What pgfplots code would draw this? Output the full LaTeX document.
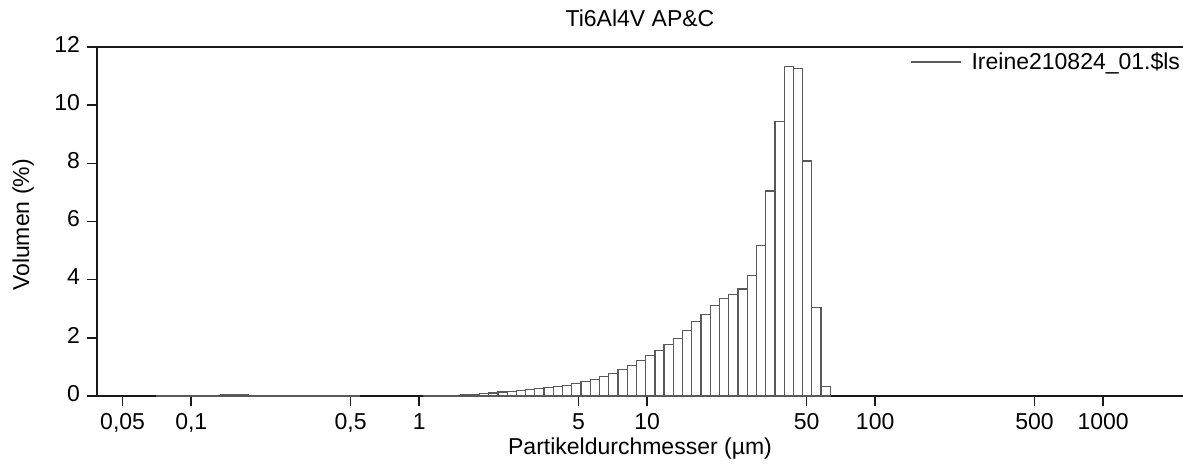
\documentclass[border=0pt]{standalone}
\usepackage{fontspec}
\setmainfont{Liberation Sans}
\usepackage{pgfplots}
\pgfplotsset{compat=1.18}
\usepackage{pgfplotstable}

% left bin edge (um), volume (%) ; last row = right edge of last bin
\pgfplotstableread{
x y
1.050 0.02
1.152 0.02
1.265 0.03
1.389 0.03
1.524 0.05
1.674 0.06
1.837 0.09
2.017 0.10
2.214 0.14
2.430 0.16
2.668 0.18
2.928 0.21
3.215 0.25
3.529 0.29
3.874 0.33
4.252 0.37
4.668 0.44
5.124 0.51
5.625 0.57
6.175 0.68
6.778 0.78
7.441 0.91
8.168 1.04
8.966 1.21
9.842 1.39
10.81 1.56
11.86 1.76
13.02 1.99
14.30 2.25
15.69 2.56
17.23 2.81
18.91 3.12
20.76 3.36
22.79 3.48
25.01 3.68
27.46 4.14
30.14 5.17
33.09 7.05
36.32 9.43
39.87 11.33
43.77 11.27
48.04 8.08
52.74 3.05
57.89 0.32
63.56 0
}\mainbins

\pgfplotstableread{
x y
0.0702 0.02
0.0771 0.02
0.0846 0.02
0.0929 0.02
0.1020 0.02
0.1120 0.02
0.1229 0.02
0.1349 0.06
0.1481 0.06
0.1626 0.06
0.1785 0.02
0.1959 0.02
0.2151 0.02
0.2361 0.02
0.2592 0.02
0.2845 0.02
0.3123 0.02
0.3429 0.02
0.3764 0.02
0.4132 0.02
0.4535 0.02
0.4979 0.02
0.5466 0
}\finebins

\begin{document}
\fontsize{10}{12}\selectfont
\begin{tikzpicture}
\begin{axis}[
  at={(48.5pt,34pt)}, anchor=south west,
  scale only axis, width=543pt, height=174.5pt,
  xmode=log, xmin=0.0386, xmax=2240,
  ymin=0, ymax=12,
  axis x line*=bottom, axis y line*=left,
  tick align=outside, major tick length=5pt,
  xtick={0.05,0.1,0.5,1,5,10,50,100,500,1000},
  xticklabels={{0,05},{0,1},{0,5},1,5,10,50,100,500,1000},
  xminorticks=false, yminorticks=false,
  ytick={0,2,...,12},
  /pgf/number format/assume math mode=true,
  typeset ticklabels with strut,
  tick label style={font=\fontsize{11.5}{13}\selectfont},
  xticklabel style={yshift=1pt},
  label style={font=\fontsize{11.5}{13}\selectfont},
  axis line style={line width=0.8pt, black!90},
  tick style={line width=0.8pt, black!90},
  xlabel={Partikeldurchmesser (µm)},
  ylabel={Volumen (\%)},
  xlabel style={at={(axis description cs:0.5,0)}, anchor=base, yshift=-29.5pt},
  ylabel style={at={(axis description cs:-0.0626,0.49)}, anchor=base},
  title={Ti6Al4V AP\&C},
  title style={at={(axis description cs:0.5,1)}, anchor=base, yshift=4pt, font=\fontsize{11.5}{13}\selectfont},
  legend style={at={(axis description cs:0.7486,0.957)}, anchor=west, draw=none, fill=none,
    inner sep=0pt, font=\fontsize{11.5}{13}\selectfont},
  legend image code/.code={\draw[#1] (0pt,0pt) -- (25pt,0pt);},
  legend cell align=left,
  clip=false,
]
\addplot[ybar interval, fill=white, draw=black!65, line width=0.6pt, forget plot] table[x=x,y=y] {\mainbins};
\addplot[ybar interval, fill=white, draw=black!65, line width=0.6pt, forget plot] table[x=x,y=y] {\finebins};
\addlegendimage{draw=black!65, line width=0.6pt}
\addlegendentry{\hspace{3pt}Ireine210824\_01.\$ls}
\draw[line width=1.4pt, black!90] (axis description cs:0,1) -- (axis description cs:1.02,1);
\end{axis}
\pgfresetboundingbox
\useasboundingbox (0,0) rectangle (591.5pt,232pt);
\end{tikzpicture}
\end{document}
